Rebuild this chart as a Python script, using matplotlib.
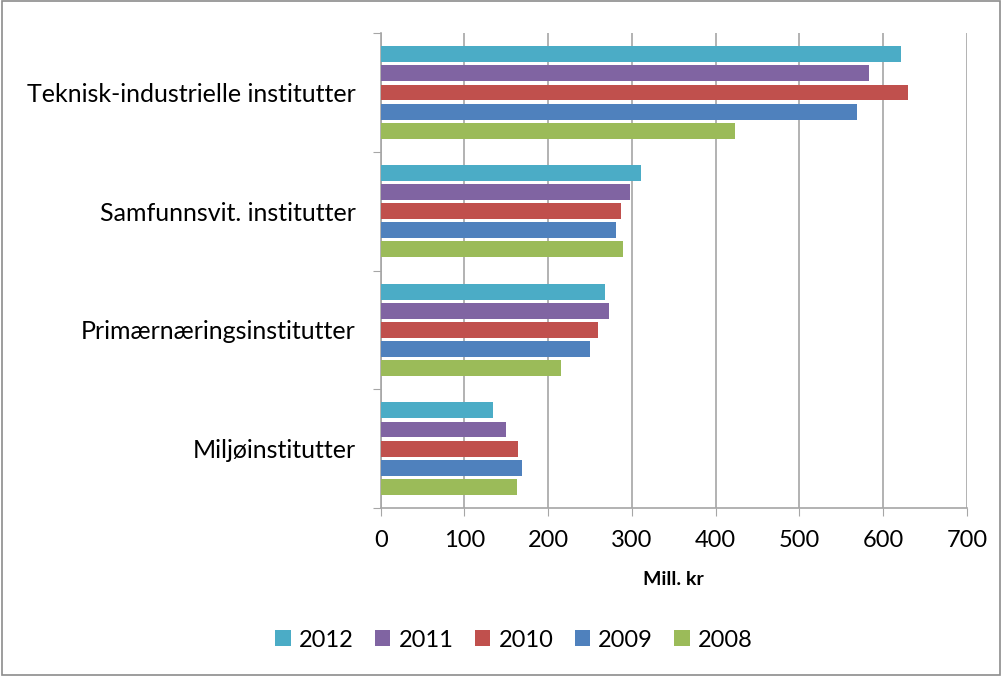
import matplotlib.pyplot as plt
import matplotlib.patches as mpatches
import numpy as np

plt.rcParams['font.family'] = ['Lato', 'DejaVu Sans']

categories = ['Teknisk-industrielle institutter', 'Samfunnsvit. institutter',
              'Primærnæringsinstitutter', 'Miljøinstitutter']
years = ['2012', '2011', '2010', '2009', '2008']
values = {
    '2012': [621, 311, 268, 134],
    '2011': [583, 298, 272, 149],
    '2010': [630, 287, 260, 164],
    '2009': [569, 281, 250, 169],
    '2008': [423, 289, 215, 163],
}
colors = {'2012': '#4BACC6', '2011': '#8064A2', '2010': '#C0504D',
          '2009': '#4F81BD', '2008': '#9BBB59'}

fig = plt.figure(figsize=(10.02, 6.76), dpi=100)
ax = fig.add_axes([0.380, 0.2485, 0.585, 0.7025])

pos = np.arange(len(categories))
pitch = 0.161
bar_h = 0.134
for i, y in enumerate(years):
    offs = (i - 2) * pitch
    ax.barh(pos + offs, values[y], height=bar_h, color=colors[y], label=y, zorder=3)

ax.set_xlim(0, 700)
ax.set_ylim(len(categories) - 0.5, -0.5)
ax.set_xticks(range(0, 701, 100))
ax.xaxis.grid(True, color='#a6a6a6', linewidth=1.2, zorder=0)

ax.set_yticks(np.arange(-0.5, len(categories), 1))
ax.set_yticklabels([])
ax.set_yticks(pos, minor=True)
ax.set_yticklabels(categories, minor=True, fontsize=18)
ax.tick_params(axis='y', which='minor', length=0, pad=18)
ax.tick_params(axis='y', which='major', length=6, color='#a6a6a6')
ax.tick_params(axis='x', length=6, color='#a6a6a6', labelsize=17, pad=10)

for s in ['top', 'right']:
    ax.spines[s].set_visible(False)
for s in ['left', 'bottom']:
    ax.spines[s].set_color('#a6a6a6')
    ax.spines[s].set_linewidth(1.2)

ax.set_xlabel('Mill. kr', fontsize=14, fontweight='bold', labelpad=14)

fig.legend(loc='center', bbox_to_anchor=(0.513, 0.053), ncol=5, frameon=False,
           fontsize=17, handlelength=0.65, handleheight=0.65, columnspacing=0.9,
           handletextpad=0.35)

fig.patches.append(mpatches.Rectangle((0.002, 0.002), 0.996, 0.996, transform=fig.transFigure,
                                      fill=False, edgecolor='#8c8c8c', linewidth=1.2))

fig.savefig('out.png', dpi=100)
